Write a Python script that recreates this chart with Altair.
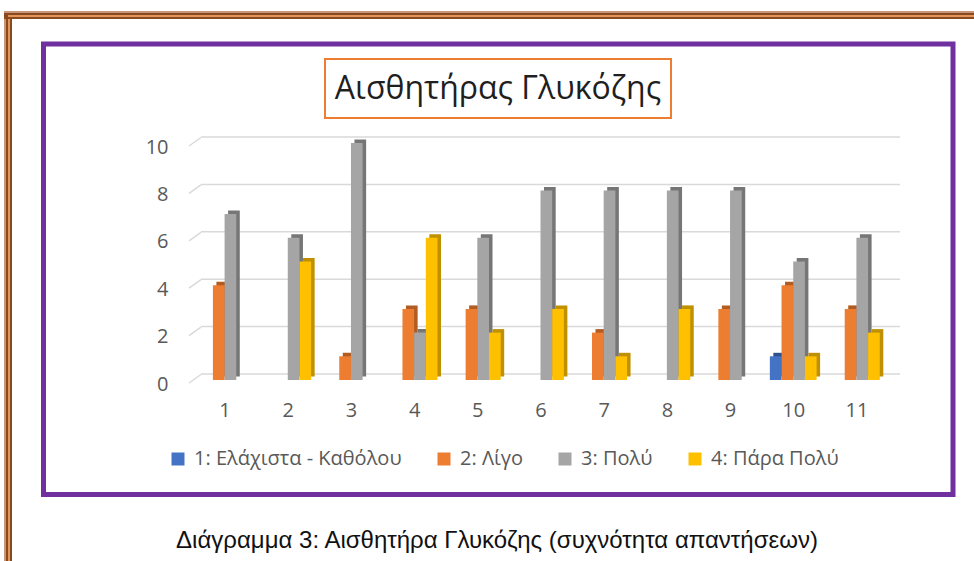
import altair as alt
import pandas as pd

# ---------------- data ----------------
categories = [1, 2, 3, 4, 5, 6, 7, 8, 9, 10, 11]
series_names = ["1: Ελάχιστα - Καθόλου", "2: Λίγο", "3: Πολύ", "4: Πάρα Πολύ"]
s1_values = [0, 0, 0, 0, 0, 0, 0, 0, 0, 1, 0]
s2_values = [4, 0, 1, 3, 3, 0, 2, 0, 3, 4, 3]
s3_values = [7, 6, 10, 2, 6, 8, 8, 8, 8, 5, 6]
s4_values = [0, 5, 0, 6, 2, 3, 1, 3, 0, 1, 2]
y_ticks = [0, 2, 4, 6, 8, 10]
title_text = "Αισθητήρας Γλυκόζης"
caption_text = "Διάγραμμα 3: Αισθητήρα Γλυκόζης (συχνότητα απαντήσεων)"

# ---------------- styles ----------------
colors = ["#4472c4", "#ed7d31", "#a5a5a5", "#ffc000"]
side_colors = ["#2f528f", "#b05c22", "#767676", "#bf9000"]
dark_names = [n + " " for n in series_names]
BAR_W = 0.185
OX, OY = 193, 143  # plot origin in page pixels

rows = []
for vals, name, dname, k in zip([s1_values, s2_values, s3_values, s4_values],
                                series_names, dark_names, range(4)):
    for c, v in zip(categories, vals):
        rows.append({"cat": c, "series": name, "dark": dname, "k": k, "value": v})
df = pd.DataFrame(rows)

grid_df = pd.DataFrame({"v": y_ticks})
one = pd.DataFrame({"a": [0]})

xscale = alt.Scale(domain=[0.5, 11.5], nice=False, zero=False)
yscale = alt.Scale(domain=[0, 10], nice=False)

base = alt.Chart(df).transform_filter("datum.value > 0").transform_calculate(
    left=f"datum.cat + (datum.k - 2) * {BAR_W}",
    right=f"datum.cat + (datum.k - 1) * {BAR_W}",
)

x_axis = alt.Axis(values=categories, format="d", domain=False, ticks=False, grid=False,
                  labelFontSize=20, labelColor="#595959", labelPadding=20, title=None,
                  zindex=2)
y_axis = alt.Axis(values=y_ticks, domain=False, ticks=False, grid=False,
                  labelFontSize=20, labelColor="#595959", labelPadding=25,
                  labelOffset=4, title=None, zindex=2)

gridlines = alt.Chart(grid_df).mark_rule(color="#d9d9d9", strokeWidth=1.5, yOffset=-6).encode(
    y=alt.Y("v:Q", scale=yscale, axis=y_axis), x=alt.value(8), x2=alt.value(707))
diag = alt.Chart(grid_df).mark_rule(color="#d9d9d9", strokeWidth=1.5, yOffset=3, y2Offset=-5.5).encode(
    y=alt.Y("v:Q", scale=yscale, axis=y_axis), y2="v:Q", x=alt.value(-4), x2=alt.value(8))

shadow = base.mark_bar(xOffset=3.5, x2Offset=3.5, yOffset=-3.5, y2Offset=-3.5).encode(
    x=alt.X("left:Q", scale=xscale, axis=x_axis),
    x2="right:Q",
    y=alt.Y("value:Q", scale=yscale, axis=y_axis),
    y2=alt.datum(0),
    color=alt.Color("dark:N", scale=alt.Scale(domain=dark_names, range=side_colors), legend=None),
)

front = base.mark_bar().encode(
    x=alt.X("left:Q", scale=xscale, axis=x_axis),
    x2="right:Q",
    y=alt.Y("value:Q", scale=yscale, axis=y_axis),
    y2=alt.datum(0),
    color=alt.Color("series:N", scale=alt.Scale(domain=series_names, range=colors),
                    legend=alt.Legend(orient="none", legendX=-25, legendY=306,
                                      direction="horizontal", title=None,
                                      symbolType="square", symbolSize=169,
                                      symbolStrokeWidth=0, labelFontSize=20,
                                      labelColor="#595959", labelOffset=6,
                                      labelLimit=0, columnPadding=32, padding=0)),
)


def rect(x1, x2, y1, y2, **kw):
    return alt.Chart(one).mark_rect(**kw).encode(
        x=alt.value(x1 - OX), x2=alt.value(x2 - OX), y=alt.value(y1 - OY), y2=alt.value(y2 - OY))


deco = [
    # page border (brown double line)
    rect(4, 12, 11, 575, color="#8a4a1f"),
    rect(4, 6, 11, 575, color="#c8977a"),
    rect(8, 10, 15, 575, color="#e3955a"),
    rect(4, 990, 11, 19, color="#8a4a1f"),
    rect(4, 990, 11, 13, color="#c8977a"),
    rect(8, 990, 15, 17, color="#e3955a"),
    # purple chart frame
    rect(43.5, 953, 44, 494.5, fillOpacity=0, stroke="#7030a0", strokeWidth=5),
    # title box
    rect(325, 671, 59, 118, fill="white", stroke="#ed7d31", strokeWidth=2),
]

title = alt.Chart(one).mark_text(font="Open Sans", fontSize=32, color="#1f1f1f",
                                 align="center", baseline="middle").encode(
    x=alt.value(498 - OX), y=alt.value(89 - OY), text=alt.value(title_text))
caption = alt.Chart(one).mark_text(font="Liberation Sans", fontSize=24, color="#111111",
                                   align="center", baseline="middle").encode(
    x=alt.value(497 - OX), y=alt.value(541 - OY), text=alt.value(caption_text))

chart = alt.layer(*deco, title, caption, gridlines, diag, shadow, front).resolve_scale(
    color="independent"
).properties(
    width=695, height=237,
    padding={"left": OX, "top": OY, "right": 974 - OX - 695, "bottom": 561 - OY - 237},
    autosize=alt.AutoSizeParams(type="none"),
    background="white",
).configure(font="Open Sans").configure_view(stroke=None)

chart.save("out.html", embed_options={"renderer": "svg", "actions": False})
